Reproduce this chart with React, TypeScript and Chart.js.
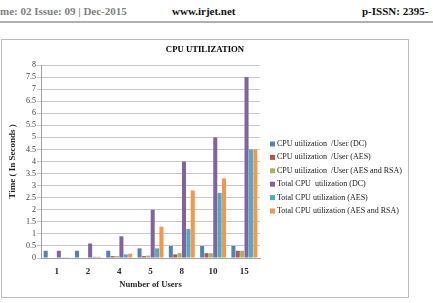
import React, { useEffect, useRef } from "react";
import { Chart, registerables } from "chart.js";

Chart.register(...registerables);

const categories = ["1", "2", "4", "5", "8", "10", "15"];
const seriesLabels = [
  "CPU utilization  /User (DC)",
  "CPU utilization  /User (AES)",
  "CPU utilization  /User (AES and RSA)",
  "Total CPU  utilization (DC)",
  "Total CPU utilization (AES)",
  "Total CPU utilization (AES and RSA)",
];
const perUserDC = [0.3, 0.3, 0.3, 0.4, 0.5, 0.5, 0.5];
const perUserAES = [0.0, 0.02, 0.08, 0.08, 0.15, 0.2, 0.3];
const perUserAESRSA = [0.0, 0.02, 0.08, 0.1, 0.2, 0.2, 0.3];
const totalDC = [0.3, 0.6, 0.9, 2.0, 4.0, 5.0, 7.5];
const totalAES = [0.01, 0.05, 0.15, 0.4, 1.2, 2.7, 4.5];
const totalAESRSA = [0.01, 0.05, 0.18, 1.3, 2.8, 3.3, 4.5];
const yMin = 0;
const yMax = 8;
const yStep = 0.5;

const colors = ["#4F81BD", "#C0504D", "#9BBB59", "#8064A2", "#4BACC6", "#F79646"];
const SERIF = "'Liberation Serif', 'DejaVu Serif', serif";

const customLegend = {
  id: "customLegend",
  afterDraw(chart: any) {
    const ctx = chart.ctx;
    const x0 = chart.chartArea.right + 10;
    ctx.save();
    ctx.font = "8px " + SERIF;
    ctx.textBaseline = "middle";
    ctx.textAlign = "left";
    chart.data.datasets.forEach((ds: any, i: number) => {
      const y = 104 + i * 13.4;
      ctx.fillStyle = ds.backgroundColor;
      ctx.fillRect(x0, y - 2.5, 5, 5);
      ctx.fillStyle = "#202020";
      ctx.fillText(ds.label, x0 + 7, y);
    });
    ctx.restore();
  },
};

export default function App() {
  const ref = useRef<HTMLCanvasElement>(null);
  useEffect(() => {
    const series = [perUserDC, perUserAES, perUserAESRSA, totalDC, totalAES, totalAESRSA];
    const chart = new Chart(ref.current!, {
      type: "bar",
      data: {
        labels: categories,
        datasets: series.map((d, i) => ({
          label: seriesLabels[i],
          data: d,
          backgroundColor: colors[i],
          borderWidth: 0,
          categoryPercentage: 0.84,
          barPercentage: 0.92,
          yAxisID: "y",
        })),
      },
      options: {
        animation: false,
        responsive: false,
        maintainAspectRatio: false,
        layout: { padding: 0 },
        plugins: {
          legend: { display: false },
          tooltip: { enabled: false },
          title: {
            display: true,
            text: "CPU UTILIZATION",
            color: "#000",
            font: { family: SERIF, size: 8.7, weight: "bold" },
            padding: { top: 4.8, bottom: 9.8 },
          },
        },
        scales: {
          x: {
            grid: { display: false, drawTicks: false },
            border: { display: true, color: "#a0a0a0" },
            ticks: { color: "#262626", font: { family: SERIF, size: 9, weight: "bold" }, padding: 8 },
            title: {
              display: true,
              text: "Number of Users",
              color: "#262626",
              font: { family: SERIF, size: 8.6, weight: "bold" },
              padding: { top: 0, bottom: 6.8 },
            },
            afterFit: (s: any) => { s.height = 39; },
          },
          y: {
            min: yMin,
            max: yMax,
            grid: { color: "#c8c8c8", tickLength: 4 },
            border: { display: true, color: "#a0a0a0" },
            ticks: {
              stepSize: yStep,
              autoSkip: false,
              color: "#404040",
              font: { family: SERIF, size: 8 },
              padding: 1,
              callback: (v: any) => String(v),
            },
            title: {
              display: true,
              text: "Time ( In Seconds )",
              color: "#262626",
              font: { family: SERIF, size: 9, weight: "bold" },
              padding: { top: 5.6, bottom: 0 },
            },
            afterFit: (s: any) => { s.width = 39; },
          },
          legendSpace: {
            type: "linear",
            position: "right",
            display: true,
            grid: { display: false, drawTicks: false },
            border: { display: false },
            ticks: { display: false },
            afterFit: (s: any) => { s.width = 148; },
          },
        },
      } as any,
      plugins: [customLegend],
    });
    return () => chart.destroy();
  }, []);

  return (
    <div style={{ position: "absolute", left: 0, top: 0, width: 433, height: 303, background: "#fff", overflow: "hidden", fontFamily: SERIF }}>
      <div style={{ position: "absolute", left: 0, top: 5, fontSize: 11, color: "#808080", whiteSpace: "nowrap", fontWeight: "bold" }}>me: 02 Issue: 09 | Dec-2015</div>
      <div style={{ position: "absolute", left: 172, top: 5, fontSize: 11, color: "#111", whiteSpace: "nowrap", fontWeight: "bold" }}>www.irjet.net</div>
      <div style={{ position: "absolute", left: 362, top: 5, fontSize: 11, color: "#111", whiteSpace: "nowrap", fontWeight: "bold" }}>p-ISSN: 2395-</div>
      <div style={{ position: "absolute", left: 0, top: 21, width: 433, height: 2, background: "#b0b0b0" }} />
      <div style={{ position: "absolute", left: 1, top: 39, width: 408, height: 259, border: "1px solid #bcbcbc", boxSizing: "border-box" }}>
        <canvas ref={ref} width={406} height={257} style={{ display: "block", width: 406, height: 257 }} />
      </div>
    </div>
  );
}
